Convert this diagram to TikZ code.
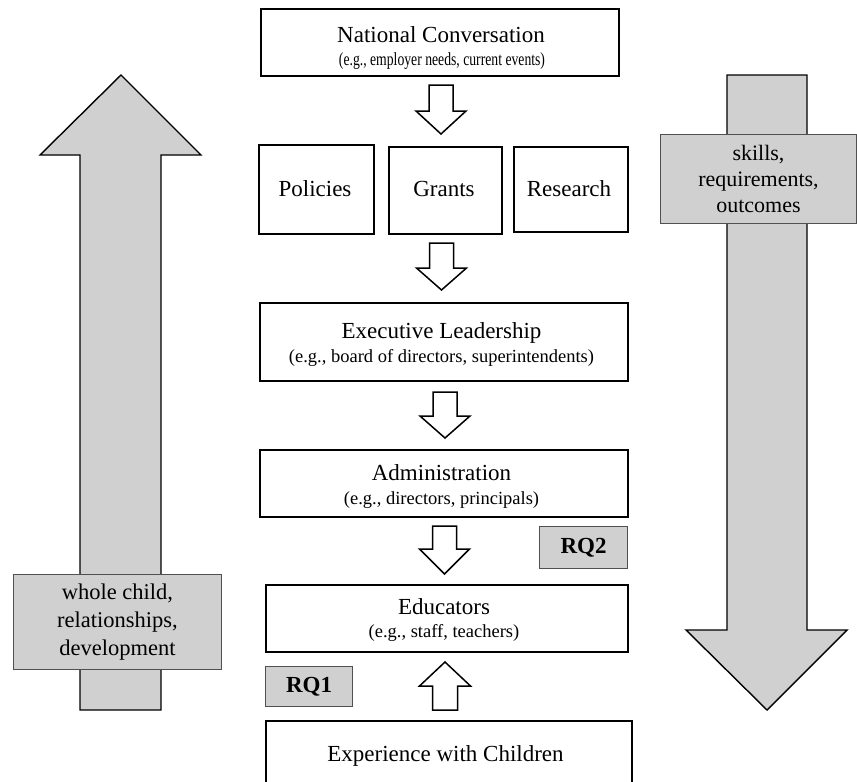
\documentclass[tikz,border=0pt]{standalone}
\usepackage{fontspec}
\setmainfont{Liberation Serif}
\usepackage{graphicx}
\definecolor{fillgray}{HTML}{D0D0D0}
\definecolor{edgegray}{HTML}{505050}
\tikzset{
  box/.style={draw=black, line width=1.8pt, fill=white, inner sep=0pt, anchor=north west},
  tag/.style={draw=edgegray, line width=1pt, fill=fillgray, inner sep=0pt, anchor=north west},
  ttl/.style={inner sep=0pt, anchor=base, font=\fontsize{23}{27}\selectfont},
  sub/.style={inner sep=0pt, anchor=base, font=\fontsize{18.5}{22}\selectfont},
  hollow/.style={draw=black, line width=1.5pt, fill=white, line join=miter},
  big/.style={draw=black, line width=1.4pt, fill=fillgray, line join=miter},
}
\newcommand\hdarrow[4]{% cx, top, head base, tip
  \draw[hollow] (#1-12,#2) -- (#1+12,#2) -- (#1+12,#3) -- (#1+25,#3) -- (#1,#4) -- (#1-25,#3) -- (#1-12,#3) -- cycle;}
\begin{document}
\begin{tikzpicture}[x=1pt,y=-1pt]
\useasboundingbox (0,0) rectangle (857,782);
\clip (0,0) rectangle (857,782);
\fill[white] (0,0) rectangle (857,782);

% big side arrows
\draw[big] (80,710) -- (80,155) -- (40,155) -- (121,75) -- (201,155) -- (161,155) -- (161,710) -- cycle;
\draw[big] (727,75) -- (807,75) -- (807,630) -- (847,630) -- (767,710) -- (686,630) -- (727,630) -- cycle;
\node[tag, minimum width=208, minimum height=95, align=center, font=\fontsize{22.5}{28}\selectfont] (wc) at (13,574) {whole child,\\relationships,\\development};
\node[tag, minimum width=196, minimum height=89, align=center, font=\fontsize{22}{26}\selectfont] (sk) at (660,134) {skills,\\requirements,\\outcomes};

% main boxes
\node[box, minimum width=358, minimum height=67] (nat) at (260,8) {};
\node[ttl] (natt) at (441,42) {National Conversation};
\node[sub] (nats) at (442,65) {\scalebox{0.74}[1]{(e.g., employer needs, current events)}};

\node[box, minimum width=115, minimum height=89] (pol) at (258,144) {};
\node[ttl] (polt) at (315,196) {Policies};
\node[box, minimum width=113, minimum height=87] (gra) at (388,146) {};
\node[ttl] (grat) at (444,196) {Grants};
\node[box, minimum width=114, minimum height=85] (res) at (513,146) {};
\node[ttl] (rest) at (569,196) {Research};

\node[box, minimum width=368, minimum height=78] (exe) at (259,302) {};
\node[ttl] (exet) at (441.5,338) {Executive Leadership};
\node[sub] (exes) at (441.5,362) {(e.g., board of directors, superintendents)};

\node[box, minimum width=368, minimum height=67] (adm) at (259,449) {};
\node[ttl] (admt) at (441.5,480) {Administration};
\node[sub] (adms) at (441.5,504) {(e.g., directors, principals)};

\node[box, minimum width=362, minimum height=67] (edu) at (265,584) {};
\node[ttl] (edut) at (444,614) {Educators};
\node[sub] (edus) at (444,637) {(e.g., staff, teachers)};

\node[box, minimum width=366, minimum height=90] (exp) at (265,720) {};
\node[ttl] (expt) at (445.5,761) {Experience with Children};

% RQ tags
\node[tag, minimum width=88, minimum height=42, font=\fontsize{23}{27}\selectfont\bfseries] (rq2) at (539,526) {RQ2};
\node[tag, minimum width=87, minimum height=40, font=\fontsize{23}{27}\selectfont\bfseries] (rq1) at (265,666) {RQ1};

% hollow arrows
\hdarrow{441}{85}{111}{134}
\hdarrow{441.5}{243}{268}{290}
\hdarrow{445}{392}{416}{438}
\hdarrow{444.5}{526}{549}{574}
\draw[hollow] (432.5,710) -- (457.5,710) -- (457.5,686) -- (470.5,686) -- (445,662) -- (419.5,686) -- (432.5,686) -- cycle;
\end{tikzpicture}
\end{document}
